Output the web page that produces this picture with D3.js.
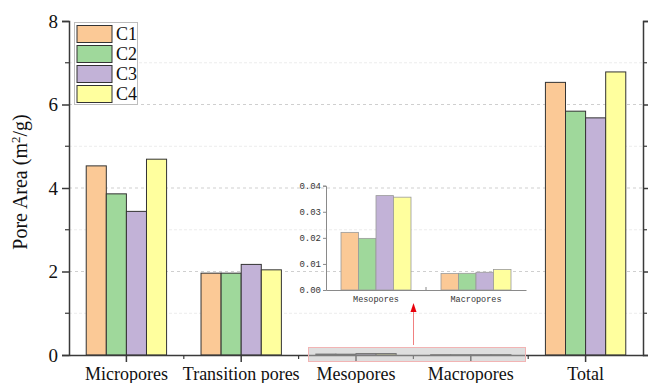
<!DOCTYPE html>
<html>
<head>
<meta charset="utf-8">
<script src="https://cdn.jsdelivr.net/npm/d3@7"></script>
<style>
  html, body { margin: 0; padding: 0; background: #fff; }
  svg { display: block; }
</style>
</head>
<body>
<svg id="chart" width="648" height="383"></svg>
<script>
// Pore area by pore class for samples C1–C4
const categories = ["Micropores", "Transition pores", "Mesopores", "Macropores", "Total"];
const seriesNames = ["C1", "C2", "C3", "C4"];
const C1 = [4.53, 1.96, 0.0221, 0.0063, 6.53];
const C2 = [3.86, 1.96, 0.0198, 0.0064, 5.84];
const C3 = [3.44, 2.17, 0.0362, 0.0068, 5.68];
const C4 = [4.69, 2.04, 0.0356, 0.0079, 6.78];
const seriesValues = [C1, C2, C3, C4];
const colors = ["#fbc996", "#9fd89b", "#c2b2d7", "#ffff9e"];
const yTicks = [0, 2, 4, 6, 8];

// Inset: the two small classes on an enlarged scale
const insetCategories = ["Mesopores", "Macropores"];
const insetTicks = [0, 0.01, 0.02, 0.03, 0.04];

const svg = d3.select("#chart");
const m = { left: 69, right: 643, top: 21, bottom: 355 };
const serif = "'Liberation Serif', 'Times New Roman', serif";
const mono = "'Liberation Mono', 'DejaVu Sans Mono', monospace";
const axisColor = "#3a3a3a";

const x = d3.scaleBand().domain(categories).range([m.left, m.right]).paddingInner(0).paddingOuter(0);
const xs = d3.scaleBand().domain(seriesNames).range([0, x.bandwidth() * 0.7]);
const y = d3.scaleLinear().domain([0, 8]).range([m.bottom, m.top]);

// Gridlines: minor (odd) faint, major (even) dashed
const gridG = svg.append("g");
[1, 3, 5, 7].forEach(v => {
  gridG.append("line").attr("x1", m.left).attr("x2", m.right)
    .attr("y1", y(v)).attr("y2", y(v))
    .attr("stroke", "#ececec").attr("stroke-width", 1).attr("stroke-dasharray", "3,2");
});
[2, 4, 6].forEach(v => {
  gridG.append("line").attr("x1", m.left).attr("x2", m.right)
    .attr("y1", y(v)).attr("y2", y(v))
    .attr("stroke", "#cfcfcf").attr("stroke-width", 1).attr("stroke-dasharray", "3,3");
});

// Bars
const rows = categories.map((c, i) => ({ cat: c, vals: seriesNames.map((s, j) => ({ s, v: seriesValues[j][i], j })) }));
const groups = svg.append("g").selectAll("g").data(rows).join("g")
  .attr("transform", d => `translate(${x(d.cat) + x.bandwidth() * 0.15},0)`);
groups.selectAll("rect").data(d => d.vals).join("rect")
  .attr("x", d => xs(d.s))
  .attr("y", d => y(d.v))
  .attr("width", xs.bandwidth())
  .attr("height", d => y(0) - y(d.v))
  .attr("fill", d => colors[d.j])
  .attr("stroke", "#333")
  .attr("stroke-width", 1);

// Left axis
const yAxisL = svg.append("g").attr("transform", `translate(${m.left},0)`)
  .call(d3.axisLeft(y).tickValues(yTicks).tickSize(7).tickPadding(4).tickFormat(d3.format("d")));
yAxisL.select(".domain").attr("stroke", axisColor).attr("stroke-width", 1.5);
yAxisL.selectAll(".tick line").attr("stroke", axisColor).attr("stroke-width", 1.5);
yAxisL.selectAll(".tick text").attr("font-family", serif).attr("font-size", 19).attr("fill", "#111");
[1, 3, 5, 7].forEach(v => {
  svg.append("line").attr("x1", m.left - 4).attr("x2", m.left).attr("y1", y(v)).attr("y2", y(v))
    .attr("stroke", axisColor).attr("stroke-width", 1.2);
});

// Right axis (ticks only)
const yAxisR = svg.append("g").attr("transform", `translate(${m.right},0)`)
  .call(d3.axisRight(y).tickValues(yTicks).tickSize(6).tickFormat(""));
yAxisR.select(".domain").attr("stroke", axisColor).attr("stroke-width", 1.5);
yAxisR.selectAll(".tick line").attr("stroke", axisColor).attr("stroke-width", 1.5);
[1, 3, 5, 7].forEach(v => {
  svg.append("line").attr("x1", m.right).attr("x2", m.right + 4).attr("y1", y(v)).attr("y2", y(v))
    .attr("stroke", axisColor).attr("stroke-width", 1.2);
});

// Bottom axis
const xAxis = svg.append("g").attr("transform", `translate(0,${m.bottom})`)
  .call(d3.axisBottom(x).tickSize(7).tickPadding(3).tickSizeOuter(0));
xAxis.select(".domain").attr("stroke", axisColor).attr("stroke-width", 1.5);
xAxis.selectAll(".tick line").attr("stroke", axisColor).attr("stroke-width", 1.5);
xAxis.selectAll(".tick text").attr("font-family", serif).attr("font-size", 18).attr("fill", "#111")
  .attr("dy", "0.85em");
categories.slice(1).forEach(c => {
  svg.append("line").attr("x1", x(c)).attr("x2", x(c)).attr("y1", m.bottom).attr("y2", m.bottom + 4)
    .attr("stroke", axisColor).attr("stroke-width", 1.2);
});

// Y-axis title
svg.append("text")
  .attr("transform", `translate(27,182) rotate(-90)`)
  .attr("text-anchor", "middle")
  .attr("font-family", serif).attr("font-size", 20).attr("fill", "#111")
  .html('Pore Area (m<tspan baseline-shift="super" font-size="13">2</tspan>/g)');

// Legend
const leg = svg.append("g");
leg.append("rect").attr("x", 74.5).attr("y", 22.5).attr("width", 63).attr("height", 82)
  .attr("fill", "#fff").attr("stroke", "#bdbdbd").attr("stroke-width", 1);
seriesNames.forEach((s, i) => {
  leg.append("rect").attr("x", 77).attr("y", 25.5 + i * 20).attr("width", 35).attr("height", 17)
    .attr("fill", colors[i]).attr("stroke", "#333").attr("stroke-width", 1);
  leg.append("text").attr("x", 116).attr("y", 34 + i * 20).attr("dy", "0.35em")
    .attr("font-family", serif).attr("font-size", 18).attr("fill", "#111").text(s);
});

// Highlighted region on the main axis
svg.append("rect").attr("x", 308.5).attr("y", 347.5).attr("width", 217).attr("height", 14)
  .attr("fill", "rgba(190,190,190,0.5)").attr("stroke", "#f2b4b4").attr("stroke-width", 1);

// Arrow pointing up to the inset
svg.append("line").attr("x1", 413.5).attr("x2", 413.5).attr("y1", 345).attr("y2", 310)
  .attr("stroke", "#f08080").attr("stroke-width", 1);
svg.append("path").attr("d", "M413.5,303 L410.5,312 L416.5,312 Z").attr("fill", "#e8000b");

// Inset chart
const ix = d3.scaleBand().domain(insetCategories).range([326, 526]);
const ixs = d3.scaleBand().domain(seriesNames).range([0, ix.bandwidth() * 0.7]);
const iy = d3.scaleLinear().domain([0, 0.04]).range([290, 185.7]);
const insetIdx = insetCategories.map(c => categories.indexOf(c));
const insetRows = insetCategories.map((c, k) => ({ cat: c, vals: seriesNames.map((s, j) => ({ s, v: seriesValues[j][insetIdx[k]], j })) }));
const ig = svg.append("g");
ig.selectAll("g").data(insetRows).join("g")
  .attr("transform", d => `translate(${ix(d.cat) + ix.bandwidth() * 0.15},0)`)
  .selectAll("rect").data(d => d.vals).join("rect")
  .attr("x", d => ixs(d.s))
  .attr("y", d => iy(d.v))
  .attr("width", ixs.bandwidth())
  .attr("height", d => iy(0) - iy(d.v))
  .attr("fill", d => colors[d.j])
  .attr("stroke", "#9a9a9a")
  .attr("stroke-width", 0.8);

const iyAxis = ig.append("g").attr("transform", "translate(326,0)")
  .call(d3.axisLeft(iy).tickValues(insetTicks).tickSize(3).tickPadding(2).tickFormat(d3.format(".2f")));
iyAxis.select(".domain").attr("stroke", "#8a8a8a").attr("stroke-width", 1);
iyAxis.selectAll(".tick line").attr("stroke", "#8a8a8a");
iyAxis.selectAll(".tick text").attr("font-family", mono).attr("font-size", 9).attr("fill", "#333");

const ixAxis = ig.append("g").attr("transform", "translate(0,290)")
  .call(d3.axisBottom(ix).tickSize(0).tickPadding(6).tickSizeOuter(0));
ixAxis.select(".domain").attr("stroke", "#8a8a8a").attr("stroke-width", 1);
ixAxis.selectAll(".tick text").attr("font-family", mono).attr("font-size", 8.5).attr("fill", "#333");
ig.append("line").attr("x1", ix("Macropores")).attr("x2", ix("Macropores"))
  .attr("y1", 290).attr("y2", 287).attr("stroke", "#8a8a8a");
</script>
</body>
</html>
